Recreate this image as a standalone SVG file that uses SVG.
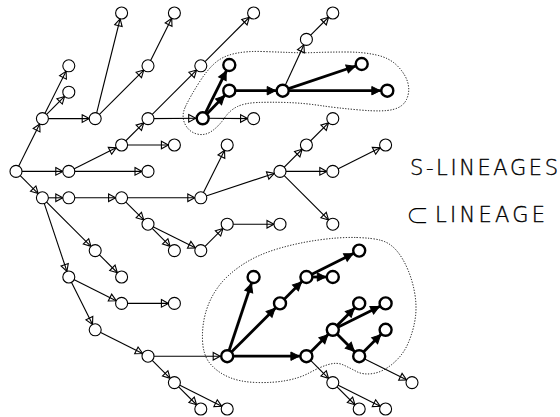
<svg xmlns="http://www.w3.org/2000/svg" width="560" height="417" viewBox="0 0 560 417">
  <style>
    .bg { fill: #ffffff; }
    .thin { stroke: #000; stroke-width: 1.1; fill: none; marker-end: url(#a); }
    .thin-b { stroke: #000; stroke-width: 1.1; fill: none; marker-end: url(#b); }
    .thick { stroke: #000; stroke-width: 2.8; fill: none; marker-end: url(#c); }
    .node circle { fill: #fff; stroke: #000; stroke-width: 1.1; }
    .node.k circle { stroke-width: 2.4; }
    .blob { fill: none; stroke: #000; stroke-width: 1; stroke-dasharray: 1.2 1.6; }
    .lbl { font-family: "DejaVu Sans", "Liberation Sans", sans-serif; font-weight: 200; font-size: 21px; fill: #000; stroke: #000; stroke-width: 0.35; }
    .sym { font-family: "Noto Sans CJK JP", "DejaVu Sans", sans-serif; font-weight: 300; font-size: 23px; fill: #000; stroke: none; }
  </style>
  <defs>
    <!-- open arrowhead, tip lands on the rim of a thin node -->
    <marker id="a" markerUnits="userSpaceOnUse" viewBox="-12 -6 24 12" markerWidth="24" markerHeight="12" refX="6" refY="0" orient="auto">
      <path d="M-7,-3.8 L0,0 L-7,3.8 Z" fill="none" stroke="#000" stroke-width="1.1"/>
    </marker>
    <!-- open arrowhead for a thin edge ending on a thick node -->
    <marker id="b" markerUnits="userSpaceOnUse" viewBox="-12 -6 24 12" markerWidth="24" markerHeight="12" refX="7" refY="0" orient="auto">
      <path d="M-7,-3.8 L0,0 L-7,3.8 Z" fill="none" stroke="#000" stroke-width="1.1"/>
    </marker>
    <!-- solid arrowhead for the bold lineage edges -->
    <marker id="c" markerUnits="userSpaceOnUse" viewBox="-12 -6 24 12" markerWidth="24" markerHeight="12" refX="7" refY="0" orient="auto">
      <path d="M-8.5,-4.2 L0,0 L-8.5,4.2 Z" fill="#000" stroke="#000" stroke-width="1"/>
    </marker>
  </defs>

  <rect class="bg" x="0" y="0" width="560" height="417"/>

  <!-- dotted outlines around the two lineages -->
  <g id="outlines">
    <path class="blob" d="M185.5,106.5 Q190,97 198.5,83.5 Q207,70 215,63 Q223,56 235,53.5 Q247,51 262,51.5 Q277,52 290,52.5 Q303,53 316.5,52.5 Q330,52 346.5,52 Q363,52 376.5,55 Q390,58 398,66.5 Q406,75 408,83.5 Q410,92 406.5,99.5 Q403,107 393,109.5 Q383,112 360,110 Q337,108 320,105.5 Q303,103 286.5,102.5 Q270,102 257.5,102.5 Q245,103 237.5,106.5 Q230,110 224.5,118 Q219,126 212,131 Q205,136 197,134 Q189,132 185,124 Q181,116 185.5,106.5 Z"/>
    <path class="blob" d="M356.5,237.5 Q373,238 381.5,240.5 Q390,243 396.5,250.5 Q403,258 408,270 Q413,282 415,295 Q417,308 415,320 Q413,332 408,343.5 Q403,355 393,363.5 Q383,372 373,373.5 Q363,375 356.5,371.5 Q350,368 343.5,365 Q337,362 328.5,364.5 Q320,367 310,372.5 Q300,378 286.5,380.5 Q273,383 256.5,382.5 Q240,382 228.5,377 Q217,372 210,363.5 Q203,355 202.5,340 Q202,325 206,311.5 Q210,298 218.5,286.5 Q227,275 242,265 Q257,255 277,249 Q297,243 318.5,240 Q340,237 356.5,237.5 Z"/>
  </g>

  <!-- connectors -->
  <g id="edges">
    <line class="thin" x1="16" y1="171.4" x2="42.4" y2="118.6"/>
    <line class="thin" x1="16" y1="171.4" x2="68.8" y2="171.4"/>
    <line class="thin" x1="16" y1="171.4" x2="42.4" y2="197.8"/>
    <line class="thin" x1="42.4" y1="118.6" x2="68.8" y2="65.8"/>
    <line class="thin" x1="42.4" y1="118.6" x2="68.8" y2="92.2"/>
    <line class="thin" x1="42.4" y1="118.6" x2="95.2" y2="118.6"/>
    <line class="thin" x1="95.2" y1="118.6" x2="121.6" y2="13"/>
    <line class="thin" x1="95.2" y1="118.6" x2="148" y2="65.8"/>
    <line class="thin" x1="148" y1="65.8" x2="174.4" y2="13"/>
    <line class="thin" x1="68.8" y1="171.4" x2="121.6" y2="145"/>
    <line class="thin" x1="68.8" y1="171.4" x2="148" y2="171.4"/>
    <line class="thin" x1="121.6" y1="145" x2="148" y2="118.6"/>
    <line class="thin" x1="121.6" y1="145" x2="174.4" y2="145"/>
    <line class="thin-b" x1="148" y1="118.6" x2="202.7" y2="118.3"/>
    <line class="thin" x1="148" y1="118.6" x2="200.8" y2="65.8"/>
    <line class="thin" x1="200.8" y1="65.8" x2="253.6" y2="13"/>
    <line class="thin" x1="202.7" y1="118.3" x2="253.6" y2="118.6"/>
    <line class="thin" x1="282.7" y1="90.7" x2="306.4" y2="39.4"/>
    <line class="thin" x1="306.4" y1="39.4" x2="332.8" y2="13"/>
    <line class="thin" x1="42.4" y1="197.8" x2="68.8" y2="197.8"/>
    <line class="thin" x1="42.4" y1="197.8" x2="95.2" y2="250.6"/>
    <line class="thin" x1="42.4" y1="197.8" x2="68.8" y2="277"/>
    <line class="thin" x1="68.8" y1="197.8" x2="121.6" y2="197.8"/>
    <line class="thin" x1="121.6" y1="197.8" x2="200.8" y2="197.8"/>
    <line class="thin" x1="121.6" y1="197.8" x2="148" y2="224.2"/>
    <line class="thin" x1="148" y1="224.2" x2="174.4" y2="250.6"/>
    <line class="thin" x1="148" y1="224.2" x2="200.8" y2="250.6"/>
    <line class="thin" x1="200.8" y1="250.6" x2="227.2" y2="224.2"/>
    <line class="thin" x1="227.2" y1="224.2" x2="280" y2="224.2"/>
    <line class="thin" x1="95.2" y1="250.6" x2="121.6" y2="277"/>
    <line class="thin" x1="200.8" y1="197.8" x2="227.2" y2="145"/>
    <line class="thin" x1="200.8" y1="197.8" x2="280" y2="171.4"/>
    <line class="thin" x1="280" y1="171.4" x2="306.4" y2="145"/>
    <line class="thin" x1="280" y1="171.4" x2="332.8" y2="171.4"/>
    <line class="thin" x1="280" y1="171.4" x2="332.8" y2="224.2"/>
    <line class="thin" x1="306.4" y1="145" x2="332.8" y2="118.6"/>
    <line class="thin" x1="332.8" y1="171.4" x2="385.6" y2="145"/>
    <line class="thin" x1="68.8" y1="277" x2="121.6" y2="303.4"/>
    <line class="thin" x1="68.8" y1="277" x2="95.2" y2="329.8"/>
    <line class="thin" x1="121.6" y1="303.4" x2="174.4" y2="303.4"/>
    <line class="thin" x1="95.2" y1="329.8" x2="148" y2="356.2"/>
    <line class="thin-b" x1="148" y1="356.2" x2="227.2" y2="356.2"/>
    <line class="thin" x1="148" y1="356.2" x2="174.4" y2="382.6"/>
    <line class="thin" x1="174.4" y1="382.6" x2="200.8" y2="409"/>
    <line class="thin" x1="174.4" y1="382.6" x2="227.2" y2="409"/>
    <line class="thin" x1="306.4" y1="356.2" x2="332.8" y2="382.6"/>
    <line class="thin" x1="332.8" y1="382.6" x2="359.2" y2="409"/>
    <line class="thin" x1="332.8" y1="382.6" x2="385.6" y2="409"/>
    <line class="thin" x1="359.2" y1="356.2" x2="412" y2="382.6"/>

    <line class="thick" x1="202.7" y1="118.3" x2="229.3" y2="65"/>
    <line class="thick" x1="202.7" y1="118.3" x2="229.3" y2="90.7"/>
    <line class="thick" x1="229.3" y1="90.7" x2="282.7" y2="90.7"/>
    <line class="thick" x1="282.7" y1="90.7" x2="361.7" y2="64"/>
    <line class="thick" x1="282.7" y1="90.7" x2="387.3" y2="90.7"/>
    <line class="thick" x1="227.2" y1="356.2" x2="253.6" y2="277"/>
    <line class="thick" x1="227.2" y1="356.2" x2="280" y2="303.4"/>
    <line class="thick" x1="227.2" y1="356.2" x2="306.4" y2="356.2"/>
    <line class="thick" x1="280" y1="303.4" x2="306.4" y2="277"/>
    <line class="thick" x1="306.4" y1="277" x2="332.8" y2="277"/>
    <line class="thick" x1="306.4" y1="277" x2="359.2" y2="250.6"/>
    <line class="thick" x1="306.4" y1="356.2" x2="332.8" y2="329.8"/>
    <line class="thick" x1="332.8" y1="329.8" x2="359.2" y2="303.4"/>
    <line class="thick" x1="332.8" y1="329.8" x2="385.6" y2="303.4"/>
    <line class="thick" x1="332.8" y1="329.8" x2="359.2" y2="356.2"/>
    <line class="thick" x1="359.2" y1="356.2" x2="385.6" y2="329.8"/>
  </g>

  <!-- nodes -->
  <g id="nodes">
    <g id="n0-6" class="node"><circle cx="16" cy="171.4" r="6"/></g>
    <g id="n1-4" class="node"><circle cx="42.4" cy="118.6" r="6"/></g>
    <g id="n2-2" class="node"><circle cx="68.8" cy="65.8" r="6"/></g>
    <g id="n2-3" class="node"><circle cx="68.8" cy="92.2" r="6"/></g>
    <g id="n3-4" class="node"><circle cx="95.2" cy="118.6" r="6"/></g>
    <g id="n4-0" class="node"><circle cx="121.6" cy="13" r="6"/></g>
    <g id="n5-2" class="node"><circle cx="148" cy="65.8" r="6"/></g>
    <g id="n6-0" class="node"><circle cx="174.4" cy="13" r="6"/></g>
    <g id="n5-4" class="node"><circle cx="148" cy="118.6" r="6"/></g>
    <g id="n7-2" class="node"><circle cx="200.8" cy="65.8" r="6"/></g>
    <g id="n9-0" class="node"><circle cx="253.6" cy="13" r="6"/></g>
    <g id="n4-5" class="node"><circle cx="121.6" cy="145" r="6"/></g>
    <g id="n6-5" class="node"><circle cx="174.4" cy="145" r="6"/></g>
    <g id="n2-6" class="node"><circle cx="68.8" cy="171.4" r="6"/></g>
    <g id="n5-6" class="node"><circle cx="148" cy="171.4" r="6"/></g>
    <g id="n1-7" class="node"><circle cx="42.4" cy="197.8" r="6"/></g>
    <g id="n2-7" class="node"><circle cx="68.8" cy="197.8" r="6"/></g>
    <g id="n4-7" class="node"><circle cx="121.6" cy="197.8" r="6"/></g>
    <g id="n7-7" class="node"><circle cx="200.8" cy="197.8" r="6"/></g>
    <g id="n5-8" class="node"><circle cx="148" cy="224.2" r="6"/></g>
    <g id="n6-9" class="node"><circle cx="174.4" cy="250.6" r="6"/></g>
    <g id="n7-9" class="node"><circle cx="200.8" cy="250.6" r="6"/></g>
    <g id="n8-8" class="node"><circle cx="227.2" cy="224.2" r="6"/></g>
    <g id="n10-8" class="node"><circle cx="280" cy="224.2" r="6"/></g>
    <g id="n3-9" class="node"><circle cx="95.2" cy="250.6" r="6"/></g>
    <g id="n4-10" class="node"><circle cx="121.6" cy="277" r="6"/></g>
    <g id="n2-10" class="node"><circle cx="68.8" cy="277" r="6"/></g>
    <g id="n4-11" class="node"><circle cx="121.6" cy="303.4" r="6"/></g>
    <g id="n6-11" class="node"><circle cx="174.4" cy="303.4" r="6"/></g>
    <g id="n3-12" class="node"><circle cx="95.2" cy="329.8" r="6"/></g>
    <g id="n5-13" class="node"><circle cx="148" cy="356.2" r="6"/></g>
    <g id="n6-14" class="node"><circle cx="174.4" cy="382.6" r="6"/></g>
    <g id="n7-15" class="node"><circle cx="200.8" cy="409" r="6"/></g>
    <g id="n8-15" class="node"><circle cx="227.2" cy="409" r="6"/></g>
    <g id="n9-4" class="node"><circle cx="253.6" cy="118.6" r="6"/></g>
    <g id="n11-1" class="node"><circle cx="306.4" cy="39.4" r="6"/></g>
    <g id="n12-0" class="node"><circle cx="332.8" cy="13" r="6"/></g>
    <g id="n8-5" class="node"><circle cx="227.2" cy="145" r="6"/></g>
    <g id="n10-6" class="node"><circle cx="280" cy="171.4" r="6"/></g>
    <g id="n11-5" class="node"><circle cx="306.4" cy="145" r="6"/></g>
    <g id="n12-4" class="node"><circle cx="332.8" cy="118.6" r="6"/></g>
    <g id="n12-6" class="node"><circle cx="332.8" cy="171.4" r="6"/></g>
    <g id="n14-5" class="node"><circle cx="385.6" cy="145" r="6"/></g>
    <g id="n12-8" class="node"><circle cx="332.8" cy="224.2" r="6"/></g>
    <g id="n12-14" class="node"><circle cx="332.8" cy="382.6" r="6"/></g>
    <g id="n15-14" class="node"><circle cx="412" cy="382.6" r="6"/></g>
    <g id="n13-15" class="node"><circle cx="359.2" cy="409" r="6"/></g>
    <g id="n14-15" class="node"><circle cx="385.6" cy="409" r="6"/></g>

    <!-- S-lineage members (bold) -->
    <g id="s7-4" class="node k"><circle cx="202.7" cy="118.3" r="6"/></g>
    <g id="s8-2" class="node k"><circle cx="229.3" cy="65" r="6"/></g>
    <g id="s8-3" class="node k"><circle cx="229.3" cy="90.7" r="6"/></g>
    <g id="s10-3" class="node k"><circle cx="282.7" cy="90.7" r="6"/></g>
    <g id="s13-2" class="node k"><circle cx="361.7" cy="64" r="6"/></g>
    <g id="s14-3" class="node k"><circle cx="387.3" cy="90.7" r="6"/></g>
    <g id="s8-13" class="node k"><circle cx="227.2" cy="356.2" r="6"/></g>
    <g id="s9-10" class="node k"><circle cx="253.6" cy="277" r="6"/></g>
    <g id="s10-11" class="node k"><circle cx="280" cy="303.4" r="6"/></g>
    <g id="s11-10" class="node k"><circle cx="306.4" cy="277" r="6"/></g>
    <g id="s12-10" class="node k"><circle cx="332.8" cy="277" r="6"/></g>
    <g id="s13-9" class="node k"><circle cx="359.2" cy="250.6" r="6"/></g>
    <g id="s11-13" class="node k"><circle cx="306.4" cy="356.2" r="6"/></g>
    <g id="s12-12" class="node k"><circle cx="332.8" cy="329.8" r="6"/></g>
    <g id="s13-11" class="node k"><circle cx="359.2" cy="303.4" r="6"/></g>
    <g id="s14-11" class="node k"><circle cx="385.6" cy="303.4" r="6"/></g>
    <g id="s13-13" class="node k"><circle cx="359.2" cy="356.2" r="6"/></g>
    <g id="s14-12" class="node k"><circle cx="385.6" cy="329.8" r="6"/></g>
  </g>

  <!-- legend -->
  <g id="legend">
    <text class="lbl" x="410" y="175" textLength="148" lengthAdjust="spacing">S-LINEAGES</text>
    <text class="lbl" y="222"><tspan class="sym" x="406" y="224">⊂</tspan><tspan x="435" y="222" textLength="110" lengthAdjust="spacing">LINEAGE</tspan></text>
  </g>
</svg>
